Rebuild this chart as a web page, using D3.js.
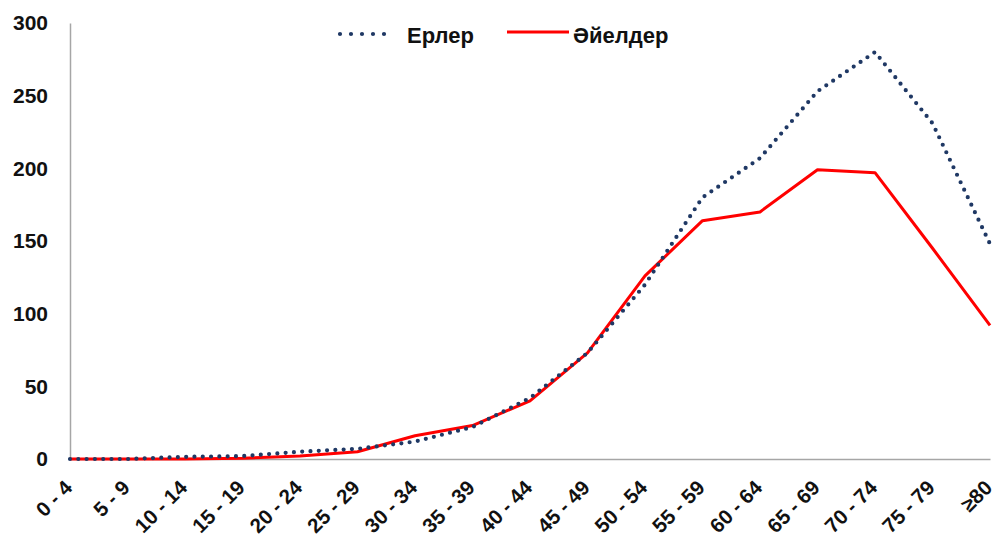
<!DOCTYPE html>
<html>
<head>
<meta charset="utf-8">
<script src="https://cdn.jsdelivr.net/npm/d3@7"></script>
<style>
  html, body { margin: 0; padding: 0; background: #fff; }
  svg { display: block; font-family: "Liberation Sans", Arial, sans-serif; }
</style>
</head>
<body>
<svg id="chart" width="998" height="539"></svg>
<script>
// Age groups
const ageGroups = ["0 - 4", "5 - 9", "10 - 14", "15 - 19", "20 - 24", "25 - 29", "30 - 34",
  "35 - 39", "40 - 44", "45 - 49", "50 - 54", "55 - 59", "60 - 64", "65 - 69",
  "70 - 74", "75 - 79", "≥80"];

// Men
const menValues = [0, 0, 1.5, 2, 5, 7, 12, 22, 42, 73, 120, 180, 207, 253, 280, 231, 148];
// Women
const womenValues = [0, 0, 0, 0.5, 2, 5, 16, 23, 40, 73, 126, 164, 170, 199, 197, 145, 92];

const yTicks = [0, 50, 100, 150, 200, 250, 300];
const seriesNames = ["Ерлер", "Әйелдер"];

const svg = d3.select("#chart");
const margin = { left: 70, right: 8, top: 23, bottom: 80 };
const W = 998, H = 539;

const x = d3.scalePoint().domain(ageGroups).range([margin.left, W - margin.right]).padding(0);
const y = d3.scaleLinear().domain([0, 300]).range([H - margin.bottom, margin.top]);

// Y axis
const yAxis = svg.append("g")
  .attr("transform", `translate(${margin.left},0)`)
  .call(d3.axisLeft(y).tickValues(yTicks).tickSize(0).tickPadding(22));
yAxis.select(".domain").attr("stroke", "#a6a6a6").attr("stroke-width", 1.5);
yAxis.selectAll("text")
  .attr("font-size", 21).attr("font-weight", "bold").attr("fill", "#111")
  .attr("font-family", "Liberation Sans, Arial, sans-serif");

// X axis
const xAxis = svg.append("g")
  .attr("transform", `translate(0,${y(0)})`)
  .call(d3.axisBottom(x).tickSize(0).tickPadding(0));
xAxis.select(".domain").attr("stroke", "#a6a6a6").attr("stroke-width", 1.5);
xAxis.selectAll("text")
  .attr("font-size", 20.5).attr("font-weight", "bold").attr("fill", "#111")
  .attr("font-family", "Liberation Sans, Arial, sans-serif")
  .attr("text-anchor", "end")
  .attr("dy", null)
  .attr("y", 0)
  .attr("transform", "translate(3,30) rotate(-45)");

const line = d3.line().x((d, i) => x(ageGroups[i])).y(d => y(d));

// Women: solid red
svg.append("path")
  .datum(womenValues)
  .attr("d", line)
  .attr("fill", "none")
  .attr("stroke", "#ff0000")
  .attr("stroke-width", 3)
  .attr("stroke-linejoin", "round");

// Men: dotted navy
svg.append("path")
  .datum(menValues)
  .attr("d", line)
  .attr("fill", "none")
  .attr("stroke", "#1f3864")
  .attr("stroke-width", 4.2)
  .attr("stroke-linecap", "round")
  .attr("stroke-dasharray", "0,8.3");

// Legend
const legend = svg.append("g").attr("font-size", 22).attr("font-weight", "bold");
legend.append("line")
  .attr("x1", 340).attr("x2", 395).attr("y1", 34).attr("y2", 34)
  .attr("stroke", "#1f3864").attr("stroke-width", 4.2)
  .attr("stroke-linecap", "round").attr("stroke-dasharray", "0,11");
legend.append("text").attr("x", 407).attr("y", 43).text(seriesNames[0]).attr("fill", "#111");
legend.append("line")
  .attr("x1", 507).attr("x2", 569).attr("y1", 32).attr("y2", 32)
  .attr("stroke", "#ff0000").attr("stroke-width", 3);
legend.append("text").attr("x", 573).attr("y", 43).text(seriesNames[1]).attr("fill", "#111");
</script>
</body>
</html>
